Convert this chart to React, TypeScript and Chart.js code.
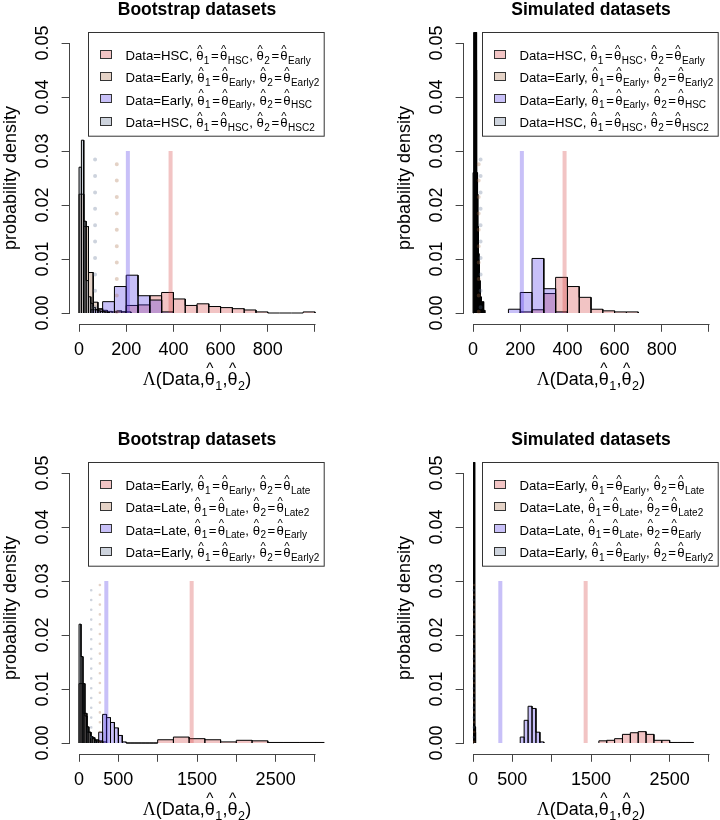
import React, { useEffect, useRef } from 'react';
import { Chart, registerables } from 'chart.js';

Chart.register(...registerables);

const FONT = '"Liberation Sans", Arial, Helvetica, "DejaVu Sans", sans-serif';
const SERIF = '"Liberation Serif", "Times New Roman", "DejaVu Serif", serif';

// ---------- axes ----------
const yTicks = [0, 0.01, 0.02, 0.03, 0.04, 0.05];
const yTickLabels = ['0.00', '0.01', '0.02', '0.03', '0.04', '0.05'];
const xTicksTop = [0, 200, 400, 600, 800, 1000];
const xTickLabelsTop = ['0', '200', '400', '600', '800', ''];
const xTicksBottom = [0, 500, 1000, 1500, 2000, 2500, 3000];
const xTickLabelsBottom = ['0', '500', '', '1500', '', '2500', ''];

const panelTitles = ['Bootstrap datasets', 'Simulated datasets', 'Bootstrap datasets', 'Simulated datasets'];
const yAxisTitle = 'probability density';
// x-axis title: Λ(Data, θ̂1, θ̂2)
const xAxisTitleParts = ['Λ', '(Data,', '1', ',', '2', ')'];

// ---------- legends: [Data, theta1 subscript, theta2 subscript] ----------
const legendTop = [
  ['HSC', 'HSC', 'Early'],
  ['Early', 'Early', 'Early2'],
  ['Early', 'Early', 'HSC'],
  ['HSC', 'HSC', 'HSC2'],
];
const legendBottom = [
  ['Early', 'Early', 'Late'],
  ['Late', 'Late', 'Late2'],
  ['Late', 'Late', 'Early'],
  ['Early', 'Early', 'Early2'],
];

// ---------- histograms: bins = [first break, bin width], densities ----------
// Panel 1: bootstrap, HSC / Early
const p1PinkBins = [150, 50];
const p1PinkDens = [0.0002, 0.0014, 0.0015, 0.0032, 0.0038, 0.0026, 0.0014, 0.0017, 0.0012, 0.0010, 0.0008, 0.00056, 0.0002, 0, 0, 0, 0.0002];
const p1TanBins = [0, 20];
const p1TanDens = [0.022, 0.016, 0.0075, 0.0020, 0.0008, 0.0005, 0.0003, 0.0002, 0.0004, 0.0002, 0.0002];
const p1BlueBins = [50, 50];
const p1BlueDens = [0.0006, 0.0021, 0.0049, 0.0070, 0.0032, 0.0024, 0.0002];
const p1GreyBins = [0, 10];
const p1GreyDens = [0.027, 0.032, 0.017, 0.006, 0.003, 0.0018, 0.001, 0.0006, 0.0004, 0.0003, 0.0003, 0.0002, 0.0001];

// Panel 2: simulated, HSC / Early
const p2PinkBins = [200, 50];
const p2PinkDens = [0.0002, 0.0006, 0.0036, 0.0066, 0.0049, 0.0029, 0.0007, 0.0004, 0.0002, 0.0002];
const p2TanBins = [0, 5];
const p2TanDens = [0.026, 0.056, 0.055, 0.022, 0.011, 0.006, 0.003, 0.0021, 0.0021, 0.0005];
const p2BlueBins = [150, 50];
const p2BlueDens = [0.0007, 0.0038, 0.0101, 0.0045, 0.0002];
const p2GreyBins = [0, 2];
const p2GreyDens = [0.02, 0.055, 0.06, 0.058, 0.055, 0.05, 0.045, 0.035, 0.026, 0.02, 0.016, 0.012, 0.009, 0.006, 0.004, 0.003, 0.002, 0.001];

// Panel 3: bootstrap, Early / Late
const p3PinkBins = [600, 200];
const p3PinkDens = [0, 0, 0.0006, 0.0011, 0.0008, 0.0006, 0.0002, 0.0005, 0.0004, 0.0001, 0.0001, 0.0001, 0.0001];
const p3TanBins = [0, 50];
const p3TanDens = [0.011, 0.0055, 0.002, 0.001, 0.0006, 0.0004, 0.0002];
const p3BlueBins = [200, 50];
const p3BlueDens = [0.0002, 0.002, 0.0053, 0.0047, 0.0038, 0.0028, 0.0014, 0.0002, 0, 0, 0, 0, 0, 0, 0, 0];
const p3GreyBins = [0, 25];
const p3GreyDens = [0.022, 0.016, 0.011, 0.005, 0.003, 0.002, 0.0012, 0.0008, 0.0005, 0.0004, 0.0003, 0.0002];

// Panel 4: simulated, Early / Late
const p4PinkBins = [1600, 100];
const p4PinkDens = [0.0004, 0.0005, 0.0008, 0.0016, 0.0019, 0.0021, 0.0016, 0.0005, 0.0005, 0.0001, 0.0001, 0.0001];
const p4TanBins = [0, 8];
const p4TanDens = [0.07, 0.06, 0.012, 0.003];
const p4BlueBins = [600, 50];
const p4BlueDens = [0.0011, 0.0042, 0.0068, 0.0064, 0.002, 0.0002];
const p4GreyBins = [0, 8];
const p4GreyDens = [0.08, 0.055, 0.01, 0.002];

// ---------- observed statistics: [pink, blue] solid; null references: [tan, grey] dotted ----------
const topObserved = [388, 207];
const bottomObserved = [1432, 347];
const p1Dotted = [160, 68];
const p2Dotted = [24, 32];
const p3Dotted = [265, 155];
const p4Dotted = [15, 8];
const refLineTop = 0.03;

// ---------- styles ----------
const seriesFill = ['rgba(212,58,58,0.3)', 'rgba(165,105,65,0.3)', 'rgba(72,45,232,0.3)', 'rgba(88,108,142,0.3)'];
const AXIS_COLOR = '#444';
const CW = 394;
const CH = 430;
const AREA_LEFT = 69.6;
const AREA_TOP = 32.2;
const AREA_BOTTOM_SPACE = 106.2;
const TITLE_SIZE = 17.5;
const TITLE_PAD_TOP = 1;

type Panel = {
  left: number; top: number; title: string;
  xTicks: number[]; xLabels: string[];
  hists: [number[], number[]][];
  solid: number[]; dotted: number[];
  legend: string[][];
  dotW: number; dotGap: number;
};

const panels: Panel[] = [
  { left: 0, top: 0, title: panelTitles[0], xTicks: xTicksTop, xLabels: xTickLabelsTop,
    hists: [[p1PinkBins, p1PinkDens], [p1TanBins, p1TanDens], [p1BlueBins, p1BlueDens], [p1GreyBins, p1GreyDens]],
    solid: topObserved, dotted: p1Dotted, legend: legendTop, dotW: 4, dotGap: 16.4 },
  { left: 394, top: 0, title: panelTitles[1], xTicks: xTicksTop, xLabels: xTickLabelsTop,
    hists: [[p2PinkBins, p2PinkDens], [p2TanBins, p2TanDens], [p2BlueBins, p2BlueDens], [p2GreyBins, p2GreyDens]],
    solid: topObserved, dotted: p2Dotted, legend: legendTop, dotW: 4, dotGap: 16.4 },
  { left: 0, top: 430, title: panelTitles[2], xTicks: xTicksBottom, xLabels: xTickLabelsBottom,
    hists: [[p3PinkBins, p3PinkDens], [p3TanBins, p3TanDens], [p3BlueBins, p3BlueDens], [p3GreyBins, p3GreyDens]],
    solid: bottomObserved, dotted: p3Dotted, legend: legendBottom, dotW: 2.6, dotGap: 9.8 },
  { left: 394, top: 430, title: panelTitles[3], xTicks: xTicksBottom, xLabels: xTickLabelsBottom,
    hists: [[p4PinkBins, p4PinkDens], [p4TanBins, p4TanDens], [p4BlueBins, p4BlueDens], [p4GreyBins, p4GreyDens]],
    solid: bottomObserved, dotted: p4Dotted, legend: legendBottom, dotW: 2.6, dotGap: 9.8 },
];

function histPoints(bins: number[], dens: number[]) {
  const [start, width] = bins;
  const pts: { x: number; y: number }[] = [];
  dens.forEach((d, i) => {
    const a = start + i * width;
    const b = a + width;
    pts.push({ x: a, y: 0 }, { x: a, y: d }, { x: b, y: d }, { x: b, y: 0 });
  });
  return pts;
}

// ---------- rich text (plotmath-like) ----------
type Seg = { k: 't' | 's' | 'h' | 'g' | 'r'; t?: string };

function segWidth(ctx: CanvasRenderingContext2D, s: Seg, main: number, sub: number, relPad: number) {
  if (s.k === 't') { ctx.font = `${main}px ${FONT}`; return ctx.measureText(s.t!).width; }
  if (s.k === 'r') { ctx.font = `${main}px ${FONT}`; return ctx.measureText(s.t!).width + 2 * relPad; }
  if (s.k === 'g') { ctx.font = `${main}px ${SERIF}`; return ctx.measureText(s.t!).width; }
  if (s.k === 's') { ctx.font = `${sub}px ${FONT}`; return ctx.measureText(s.t!).width + 0.8; }
  ctx.font = `${main}px ${FONT}`;
  return ctx.measureText('θ').width;
}

function drawSegs(ctx: CanvasRenderingContext2D, segs: Seg[], x: number, y: number, main: number, sub: number, hatLift: number, relPad: number) {
  let cx = x;
  ctx.fillStyle = '#000';
  ctx.textAlign = 'left';
  ctx.textBaseline = 'alphabetic';
  for (const s of segs) {
    const w = segWidth(ctx, s, main, sub, relPad);
    if (s.k === 't') {
      ctx.font = `${main}px ${FONT}`;
      ctx.fillText(s.t!, cx, y);
    } else if (s.k === 'r') {
      ctx.font = `${main}px ${FONT}`;
      ctx.fillText(s.t!, cx + relPad, y);
    } else if (s.k === 'g') {
      ctx.font = `${main}px ${SERIF}`;
      ctx.fillText(s.t!, cx, y);
    } else if (s.k === 's') {
      ctx.font = `${sub}px ${FONT}`;
      ctx.fillText(s.t!, cx + 0.4, y + main * 0.27);
    } else {
      ctx.font = `${main}px ${FONT}`;
      ctx.fillText('θ', cx, y);
      const hs = main * 0.85;
      ctx.font = `${hs}px ${FONT}`;
      const hw = ctx.measureText('^').width;
      ctx.fillText('^', cx + (w - hw) / 2, y - main * hatLift);
    }
    cx += w;
  }
  return cx - x;
}

function legendSegs(row: string[]): Seg[] {
  return [
    { k: 't', t: `Data=${row[0]}, ` }, { k: 'h' }, { k: 's', t: '1' }, { k: 'r', t: '=' }, { k: 'h' }, { k: 's', t: row[1] },
    { k: 't', t: ', ' }, { k: 'h' }, { k: 's', t: '2' }, { k: 'r', t: '=' }, { k: 'h' }, { k: 's', t: row[2] },
  ];
}

function xTitleSegs(): Seg[] {
  const p = xAxisTitleParts;
  return [
    { k: 'g', t: p[0] }, { k: 't', t: p[1] }, { k: 'h' }, { k: 's', t: p[2] },
    { k: 't', t: p[3] }, { k: 'h' }, { k: 's', t: p[4] }, { k: 't', t: p[5] },
  ];
}

function makeOverlay(p: Panel) {
  return {
    id: 'rOverlay',
    afterDraw(chart: any) {
      const { ctx, chartArea, scales } = chart;
      const xs = scales.x;
      const ys = scales.y;
      ctx.save();
      // axis lines over the tick range (R style)
      ctx.strokeStyle = AXIS_COLOR;
      ctx.lineWidth = 1;
      ctx.beginPath();
      const yb = Math.round(chartArea.bottom) + 0.5;
      ctx.moveTo(Math.round(xs.getPixelForValue(p.xTicks[0])) + 0.5, yb);
      ctx.lineTo(Math.round(xs.getPixelForValue(p.xTicks[p.xTicks.length - 1])) + 0.5, yb);
      const xl = Math.round(chartArea.left) - 0.5;
      ctx.moveTo(xl, Math.round(ys.getPixelForValue(yTicks[0])) + 0.5);
      ctx.lineTo(xl, Math.round(ys.getPixelForValue(yTicks[yTicks.length - 1])) + 0.5);
      ctx.stroke();

      // x-axis title
      const tSegs = xTitleSegs();
      let tw = 0;
      for (const s of tSegs) tw += segWidth(ctx, s, 18, 12.6, 0);
      const cxm = (chartArea.left + chartArea.right) / 2;
      drawSegs(ctx, tSegs, cxm - tw / 2, chartArea.bottom + 61.5, 18, 12.6, 0.68, 0);

      // legend box (top right of plot region)
      const LW = 236.7;
      const LH = 103.7;
      const bx = chartArea.right - LW;
      const by = chartArea.top;
      ctx.fillStyle = '#fff';
      ctx.fillRect(bx, by, LW, LH);
      ctx.strokeStyle = '#333';
      ctx.lineWidth = 1;
      ctx.strokeRect(Math.round(bx) + 0.5, Math.round(by) + 0.5, LW - 1, LH);
      p.legend.forEach((row, i) => {
        const cy = by + 21.3 + i * 22.4;
        const sx = Math.round(bx + 12.7) + 0.5;
        const sy = Math.round(cy - 4) + 0.5;
        ctx.fillStyle = '#fff';
        ctx.fillRect(sx, sy, 11, 8);
        ctx.fillStyle = seriesFill[i];
        ctx.fillRect(sx, sy, 11, 8);
        ctx.strokeStyle = '#333';
        ctx.strokeRect(sx, sy, 11, 8);
        drawSegs(ctx, legendSegs(row), bx + 37.7, cy + 6.5, 13.2, 10, 0.56, 1.2);
      });
      ctx.restore();
    },
  };
}

function buildConfig(p: Panel): any {
  const xr = p.xTicks[p.xTicks.length - 1] - p.xTicks[0];
  const xMin = p.xTicks[0] - 0.04 * xr;
  const xMax = p.xTicks[p.xTicks.length - 1] + 0.04 * xr;
  const yr = yTicks[yTicks.length - 1] - yTicks[0];
  const yMin = yTicks[0] - 0.04 * yr;
  const yMax = yTicks[yTicks.length - 1] + 0.04 * yr;

  const solidColors = [seriesFill[0], seriesFill[2]];
  const dottedColors = [seriesFill[1], seriesFill[3]];
  const dottedOffsets = [1.2, 5.8];

  const datasets: any[] = [];
  p.solid.forEach((v, i) => {
    datasets.push({
      data: [{ x: v, y: 0 }, { x: v, y: refLineTop }],
      borderColor: solidColors[i], borderWidth: 4, pointRadius: 0, fill: false, borderCapStyle: 'butt',
    });
  });
  p.dotted.forEach((v, i) => {
    datasets.push({
      data: [{ x: v, y: 0 }, { x: v, y: refLineTop }],
      borderColor: dottedColors[i], borderWidth: p.dotW, pointRadius: 0, fill: false,
      borderCapStyle: 'round', borderDash: [0.01, p.dotGap - 0.01], borderDashOffset: p.dotGap - dottedOffsets[i],
    });
  });
  // grey on top ... pink at bottom
  for (let i = p.hists.length - 1; i >= 0; i--) {
    const [bins, dens] = p.hists[i];
    datasets.push({
      data: histPoints(bins, dens),
      borderColor: '#000', borderWidth: 1, backgroundColor: seriesFill[i],
      fill: 'origin', pointRadius: 0, pointHoverRadius: 0, tension: 0,
    });
  }

  const gridOpts = { display: true, drawOnChartArea: false, drawTicks: true, tickLength: 8, color: AXIS_COLOR, lineWidth: 1 };

  return {
    type: 'line',
    data: { datasets },
    options: {
      animation: false,
      responsive: false,
      devicePixelRatio: 1,
      events: [],
      layout: { padding: 0 },
      plugins: {
        legend: { display: false },
        tooltip: { enabled: false },
        title: {
          display: true, text: p.title, color: '#000',
          font: { family: FONT, size: TITLE_SIZE, weight: 'bold', lineHeight: 1 },
          padding: { top: TITLE_PAD_TOP, bottom: AREA_TOP - TITLE_PAD_TOP - TITLE_SIZE },
        },
      },
      scales: {
        x: {
          type: 'linear', min: xMin, max: xMax,
          afterBuildTicks: (s: any) => { s.ticks = p.xTicks.map((v) => ({ value: v })); },
          ticks: {
            autoSkip: false, maxRotation: 0, minRotation: 0, padding: 7, color: '#000',
            font: { family: FONT, size: 18 },
            callback: (_v: any, i: number) => p.xLabels[i],
          },
          grid: gridOpts,
          border: { display: false },
          title: { display: false },
          afterFit: (s: any) => { s.height = AREA_BOTTOM_SPACE; },
        },
        y: {
          type: 'linear', position: 'left', min: yMin, max: yMax,
          afterBuildTicks: (s: any) => { s.ticks = yTicks.map((v) => ({ value: v })); },
          ticks: {
            autoSkip: false, minRotation: 90, maxRotation: 90, crossAlign: 'center', padding: 1.5, color: '#000',
            font: { family: FONT, size: 18 },
            callback: (_v: any, i: number) => yTickLabels[i],
          },
          grid: gridOpts,
          border: { display: false },
          title: { display: true, text: yAxisTitle, color: '#000', font: { family: FONT, size: 18 }, padding: { top: 0, bottom: 0 } },
          afterFit: (s: any) => { s.width = AREA_LEFT; },
        },
        y2: {
          type: 'linear', position: 'right', display: true,
          ticks: { display: false }, grid: { display: false }, border: { display: false },
          afterFit: (s: any) => { s.width = AREA_LEFT; },
        },
      },
    },
    plugins: [makeOverlay(p)],
  };
}

function PanelChart({ p }: { p: Panel }) {
  const ref = useRef<HTMLCanvasElement | null>(null);
  useEffect(() => {
    if (!ref.current) return;
    const chart = new Chart(ref.current, buildConfig(p));
    return () => chart.destroy();
  }, [p]);
  return (
    <canvas
      ref={ref}
      width={CW}
      height={CH}
      style={{ position: 'absolute', left: p.left, top: p.top, width: CW, height: CH }}
    />
  );
}

export default function App() {
  return (
    <div style={{ position: 'fixed', left: 0, top: 0, width: 720, height: 820, overflow: 'hidden', background: '#fff' }}>
      {panels.map((p, i) => (
        <PanelChart key={i} p={p} />
      ))}
    </div>
  );
}
